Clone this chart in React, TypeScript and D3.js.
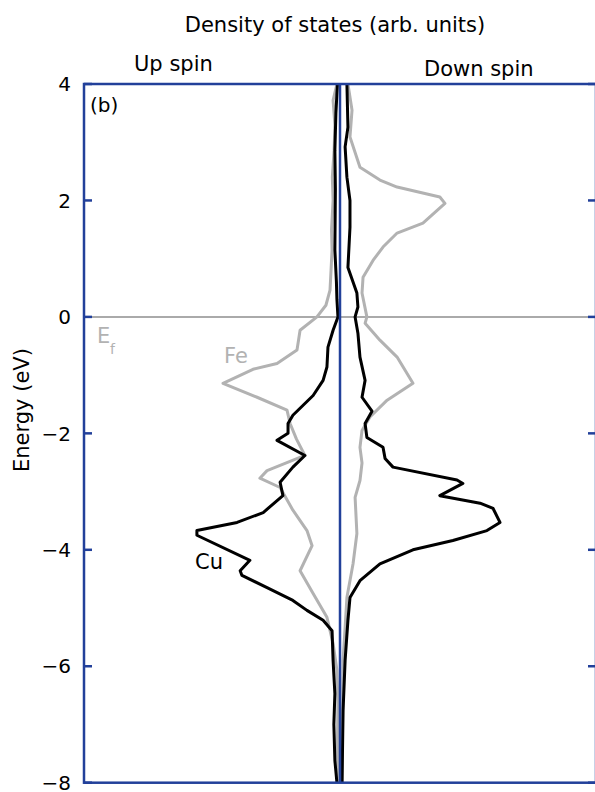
import React from 'react';
import * as d3 from 'd3';

// ==== data: [energy (eV), density of states (arb. units)]

const yTicks = [-8, -6, -4, -2, 0, 2, 4];

const feUp: [number, number][] = [
  [4, 0.12], [3.72, 0.27], [3.3, 0.2], [2.86, 0.23], [2.4, 0.3], [2.0, 0.27],
  [1.5, 0.33], [1.15, 0.31], [0.8, 0.35], [0.46, 0.39], [0.2, 0.55], [0, 0.9],
  [-0.23, 1.56], [-0.4, 1.62], [-0.57, 1.68], [-0.8, 2.46], [-0.9, 3.4],
  [-1.14, 4.57], [-1.38, 3.24], [-1.6, 2.07], [-1.83, 1.95], [-2.1, 1.7],
  [-2.38, 1.37], [-2.64, 2.85], [-2.77, 3.13], [-2.93, 2.34], [-3.32, 1.84],
  [-3.67, 1.29], [-3.93, 1.09], [-4.36, 1.56], [-4.75, 1.05], [-5.16, 0.51],
  [-5.61, 0.27], [-6.07, 0.12], [-6.6, 0.08], [-7.3, 0.1], [-8, 0.08],
];

const cuUp: [number, number][] = [
  [4, 0.1], [3.5, 0.16], [2.86, 0.2], [2.2, 0.18], [1.15, 0.2], [0.6, 0.14],
  [0.3, 0.12], [0, 0.08], [-0.23, 0.27], [-0.52, 0.47], [-0.86, 0.51],
  [-1.09, 0.66], [-1.35, 1.05], [-1.69, 1.84], [-1.83, 2.03], [-2.0, 2.03],
  [-2.12, 2.46], [-2.38, 1.37], [-2.58, 1.84], [-2.84, 2.34], [-3.07, 2.23],
  [-3.36, 3.0], [-3.53, 4.02], [-3.67, 5.59], [-3.75, 5.59], [-4.18, 3.52],
  [-4.36, 3.9], [-4.44, 3.83], [-4.65, 2.85], [-4.87, 1.84], [-5.04, 1.29],
  [-5.21, 0.66], [-5.39, 0.31], [-5.9, 0.27], [-6.47, 0.2], [-7.0, 0.24],
  [-7.62, 0.2], [-8, 0.12],
];

const feDown: [number, number][] = [
  [4, 0.31], [3.55, 0.47], [3.09, 0.39], [2.57, 0.78], [2.35, 1.56],
  [2.23, 2.23], [2.06, 3.9], [1.95, 4.1], [1.61, 3.24], [1.44, 2.23],
  [1.2, 1.68], [0.97, 1.29], [0.68, 0.9], [0.41, 0.86], [0, 1.05],
  [-0.11, 0.98], [-0.4, 1.56], [-0.69, 2.23], [-1.14, 2.85], [-1.43, 1.84],
  [-1.72, 1.17], [-1.95, 0.86], [-2.24, 0.78], [-2.51, 0.86], [-2.81, 0.78],
  [-3.1, 0.59], [-3.72, 0.66], [-4.24, 0.51], [-4.82, 0.27], [-5.33, 0.2],
  [-5.9, 0.12], [-7.0, 0.1], [-8, 0.08],
];

const cuDown: [number, number][] = [
  [4, 0.27], [3.26, 0.31], [2.92, 0.2], [2.4, 0.27], [2.0, 0.39],
  [1.54, 0.39], [0.85, 0.31], [0.41, 0.66], [0.17, 0.7], [0, 0.59],
  [-0.28, 0.7], [-0.69, 0.78], [-1.09, 0.98], [-1.38, 0.86], [-1.62, 1.25],
  [-1.83, 0.98], [-2.07, 1.05], [-2.24, 1.68], [-2.43, 1.76], [-2.58, 2.07],
  [-2.8, 4.57], [-2.86, 4.8], [-3.07, 3.9], [-3.2, 5.47], [-3.29, 5.98],
  [-3.53, 6.25], [-3.67, 5.74], [-3.84, 4.41], [-4.0, 2.85], [-4.24, 1.56],
  [-4.53, 0.78], [-4.82, 0.39], [-5.21, 0.31], [-5.9, 0.2], [-6.76, 0.12],
  [-8, 0.08],
];

// ====

const BLUE = '#22409a';
const GRAY = '#b2b2b2';
const FONT = 'DejaVu Sans, sans-serif';

export default function App() {
  const x = d3.scaleLinear().domain([-10, 10]).range([84, 596]);
  const y = d3.scaleLinear().domain([-8, 4]).range([782.7, 84]);

  const upLine = d3.line<[number, number]>()
    .x((d) => x(-d[1]))
    .y((d) => y(d[0]));
  const downLine = d3.line<[number, number]>()
    .x((d) => x(d[1]))
    .y((d) => y(d[0]));

  return (
    <svg
      width={595}
      height={792}
      style={{ position: 'absolute', left: 0, top: 0 }}
      fontFamily={FONT}>
      <defs>
        <clipPath id="plot">
          <rect x={x(-10)} y={y(4)} width={x(10) - x(-10)} height={y(-8) - y(4)} />
        </clipPath>
      </defs>

      <text x={335} y={32} fontSize={21} textAnchor="middle">Density of states (arb. units)</text>
      <text x={134} y={71} fontSize={21}>Up spin</text>
      <text x={424} y={76} fontSize={21}>Down spin</text>

      {/* Fermi level */}
      <line x1={x(-10)} x2={x(10)} y1={y(0)} y2={y(0)} stroke="#aaaaaa" strokeWidth={2} />

      <g clipPath="url(#plot)" fill="none" strokeLinejoin="round">
        <path d={upLine(feUp) || ''} stroke={GRAY} strokeWidth={3} />
        <path d={downLine(feDown) || ''} stroke={GRAY} strokeWidth={3} />
        <path d={upLine(cuUp) || ''} stroke="#000" strokeWidth={3} />
        <path d={downLine(cuDown) || ''} stroke="#000" strokeWidth={3} />
      </g>

      <line x1={x(0)} x2={x(0)} y1={y(4)} y2={y(-8)} stroke={BLUE} strokeWidth={2.5} />

      {/* frame */}
      <rect x={x(-10)} y={y(4)} width={x(10) - x(-10)} height={y(-8) - y(4)}
        fill="none" stroke={BLUE} strokeWidth={2.5} />

      {yTicks.map((t) => (
        <g key={t}>
          <line x1={x(-10)} x2={x(-10) + 8} y1={y(t)} y2={y(t)} stroke={BLUE} strokeWidth={2.5} />
          <line x1={x(10) - 8} x2={x(10)} y1={y(t)} y2={y(t)} stroke={BLUE} strokeWidth={2.5} />
          <text x={71} y={y(t)} dy="0.36em" fontSize={20} textAnchor="end">
            {t < 0 ? '\u2212' + Math.abs(t) : t}
          </text>
        </g>
      ))}

      <text transform={`translate(29,${y(-1.6)}) rotate(-90)`} fontSize={21} textAnchor="middle">
        Energy (eV)
      </text>

      <text x={90} y={112} fontSize={20}>(b)</text>
      <text x={97} y={343} fontSize={21} fill={GRAY}>E</text>
      <text x={110} y={354} fontSize={14} fill={GRAY}>f</text>
      <text x={224} y={363} fontSize={21} fill={GRAY}>Fe</text>
      <text x={195} y={569} fontSize={21} fill="#000">Cu</text>
    </svg>
  );
}
